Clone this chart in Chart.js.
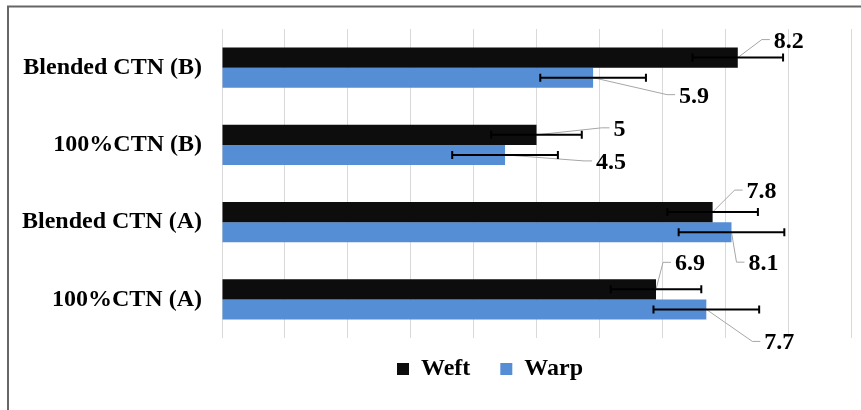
<!DOCTYPE html>
<html>
<head>
<meta charset="utf-8">
<script src="https://cdn.jsdelivr.net/npm/chart.js@4.4.1/dist/chart.umd.min.js"></script>
<style>
  html, body { margin: 0; padding: 0; background: #fff; overflow: hidden; }
</style>
</head>
<body>
<canvas id="myChart" width="861" height="410"></canvas>
<script>
// dados
var categorias = ['Blended CTN (B)', '100%CTN (B)', 'Blended CTN (A)', '100%CTN (A)'];
var weft = [8.2, 5, 7.8, 6.9];
var warp = [5.9, 4.5, 8.1, 7.7];
var erroWeft = [0.72, 0.72, 0.72, 0.72];
var erroWarp = [0.84, 0.84, 0.84, 0.84];

// deslocamento dos rótulos (px) a partir da ponta da barra
var offsetWeft = [[36, -18], [77, -7], [34, -22], [19, -27]];
var offsetWarp = [[86, 17], [91, 6], [17, 30], [58, 32]];

var fonte = 'Liberation Serif';

const extras = {
    id: 'extras',
    beforeDraw(chart) {
        const ctx = chart.ctx;
        // moldura
        ctx.save();
        ctx.strokeStyle = '#666';
        ctx.lineWidth = 2;
        ctx.beginPath();
        ctx.moveTo(8, 420);
        ctx.lineTo(8, 6.5);
        ctx.lineTo(870, 6.5);
        ctx.stroke();
        ctx.restore();

        // legenda
        const lg = chart.legend;
        const pad = lg.options.labels.padding;
        const w = lg.right - lg.left;
        lg.left = 397 - pad;
        lg.right = lg.left + w;
        lg.top = 357 - pad;
        lg.bottom = lg.top + 90;
        lg.height = 90;
    },
    afterDatasetsDraw(chart) {
        const ctx = chart.ctx;
        const xs = chart.scales.x;
        const series = [
            { meta: chart.getDatasetMeta(0), vals: weft, err: erroWeft, off: offsetWeft },
            { meta: chart.getDatasetMeta(1), vals: warp, err: erroWarp, off: offsetWarp }
        ];
        ctx.save();
        series.forEach(s => {
            s.meta.data.forEach((bar, i) => {
                const y = bar.y;
                // linha guia
                const lx = bar.x + s.off[i][0];
                const ly = y + s.off[i][1];
                ctx.strokeStyle = '#A6A6A6';
                ctx.lineWidth = 1;
                ctx.beginPath();
                ctx.moveTo(bar.x, y);
                ctx.lineTo(lx - 12, ly);
                ctx.lineTo(lx - 4, ly);
                ctx.stroke();

                // barra de erro
                const x0 = xs.getPixelForValue(s.vals[i] - s.err[i]);
                const x1 = xs.getPixelForValue(s.vals[i] + s.err[i]);
                ctx.strokeStyle = '#000';
                ctx.lineWidth = 2;
                ctx.beginPath();
                ctx.moveTo(x0, y); ctx.lineTo(x1, y);
                ctx.moveTo(x0, y - 4); ctx.lineTo(x0, y + 4);
                ctx.moveTo(x1, y - 4); ctx.lineTo(x1, y + 4);
                ctx.stroke();

                // rótulo
                ctx.fillStyle = '#000';
                ctx.font = 'bold 24px "' + fonte + '"';
                ctx.textAlign = 'left';
                ctx.textBaseline = 'alphabetic';
                ctx.fillText(String(s.vals[i]), lx, ly + 8);
            });
        });
        ctx.restore();
    }
};

const config = {
    type: 'bar',
    data: {
        labels: categorias,
        datasets: [
            {
                label: 'Weft',
                data: weft,
                backgroundColor: '#0D0D0D',
                borderWidth: 0,
                categoryPercentage: 0.52,
                barPercentage: 1
            },
            {
                label: 'Warp',
                data: warp,
                backgroundColor: '#558ED5',
                borderWidth: 0,
                categoryPercentage: 0.52,
                barPercentage: 1
            }
        ]
    },
    options: {
        indexAxis: 'y',
        responsive: false,
        animation: false,
        layout: { padding: { top: 29, bottom: 32, right: 10, left: 0 } },
        scales: {
            x: {
                min: 0,
                max: 10,
                ticks: { display: false, stepSize: 1 },
                grid: { color: '#D9D9D9', lineWidth: 1, drawTicks: false },
                border: { display: false },
                afterFit: s => { s.height = 0; }
            },
            y: {
                grid: { display: false, drawTicks: false },
                border: { display: false },
                ticks: {
                    color: '#000',
                    padding: 20,
                    font: { family: fonte, size: 24, weight: 'bold' }
                },
                afterFit: s => {
                    s.width = 222;
                    s.paddingTop = 0;
                    s.paddingBottom = 0;
                }
            }
        },
        plugins: {
            tooltip: { enabled: false },
            legend: {
                position: 'bottom',
                align: 'start',
                maxHeight: 40,
                labels: {
                    boxWidth: 12,
                    boxHeight: 12,
                    padding: 30,
                    color: '#000',
                    font: { family: fonte, size: 24, weight: 'bold' }
                }
            }
        }
    },
    plugins: [extras]
};

var myChart = new Chart(document.getElementById('myChart'), config);
</script>
</body>
</html>
